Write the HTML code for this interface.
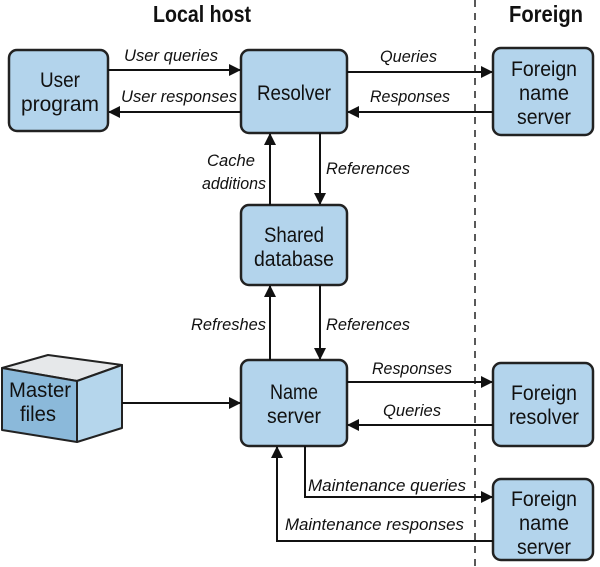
<!DOCTYPE html>
<html><head><style>
body{margin:0;background:#fff}
svg{display:block}
text{font-family:"Liberation Sans",sans-serif;fill:#111}
.b{font-size:21px;text-anchor:middle}
.l{font-size:17px;font-style:italic}
.h{font-size:23px;text-anchor:middle;font-weight:bold}
</style></head><body>
<svg width="600" height="567" viewBox="0 0 600 567">
<defs><marker id="a" markerWidth="12" markerHeight="12" refX="11" refY="6" orient="auto" markerUnits="userSpaceOnUse"><path d="M0,0 L12,6 L0,12z" fill="#111"/></marker></defs>
<text class="h" x="202" y="22" textLength="98" lengthAdjust="spacingAndGlyphs">Local host</text>
<text class="h" x="546" y="22" textLength="74" lengthAdjust="spacingAndGlyphs">Foreign</text>
<line x1="475" y1="0" x2="475" y2="567" stroke="#222" stroke-width="1.5" stroke-dasharray="7,6"/>
<g fill="#b3d4ec" stroke="#222" stroke-width="2.5">
<rect x="9" y="50" width="99" height="81" rx="8"/>
<rect x="241" y="50" width="106" height="83" rx="8"/>
<rect x="493" y="48" width="100" height="87" rx="8"/>
<rect x="241" y="205" width="106" height="80" rx="8"/>
<rect x="241" y="360" width="106" height="86" rx="8"/>
<rect x="493" y="363" width="100" height="83" rx="8"/>
<rect x="493" y="479" width="100" height="81" rx="8"/>
</g>
<g stroke="#222" stroke-width="2" stroke-linejoin="round">
<path d="M2,368 L48,355 L122,365 L77,381z" fill="#e6e8ea"/>
<path d="M2,368 L77,381 L77,442 L2,430z" fill="#8bb9da"/>
<path d="M77,381 L122,365 L122,428 L77,442z" fill="#b5d6ec"/>
</g>
<g stroke="#111" stroke-width="2" fill="none" marker-end="url(#a)">
<line x1="108" y1="70" x2="240" y2="70"/>
<line x1="241" y1="112" x2="109" y2="112"/>
<line x1="347" y1="72" x2="492" y2="72"/>
<line x1="493" y1="112" x2="348" y2="112"/>
<line x1="270" y1="205" x2="270" y2="134"/>
<line x1="320" y1="133" x2="320" y2="204"/>
<line x1="270" y1="360" x2="270" y2="286"/>
<line x1="320" y1="285" x2="320" y2="359"/>
<line x1="122" y1="403" x2="240" y2="403"/>
<line x1="347" y1="382" x2="492" y2="382"/>
<line x1="493" y1="425" x2="348" y2="425"/>
<path d="M305,446 L305,497 L492,497"/>
<path d="M493,541 L277,541 L277,447"/>
</g>
<g lengthAdjust="spacingAndGlyphs">
<text class="b" x="60" y="87" textLength="40" lengthAdjust="spacingAndGlyphs">User</text><text class="b" x="60" y="111" textLength="78" lengthAdjust="spacingAndGlyphs">program</text>
<text class="b" x="294" y="100" textLength="74" lengthAdjust="spacingAndGlyphs">Resolver</text>
<text class="b" x="544" y="76" textLength="66" lengthAdjust="spacingAndGlyphs">Foreign</text><text class="b" x="544" y="100" textLength="50" lengthAdjust="spacingAndGlyphs">name</text><text class="b" x="544" y="124" textLength="54" lengthAdjust="spacingAndGlyphs">server</text>
<text class="b" x="294" y="242" textLength="60" lengthAdjust="spacingAndGlyphs">Shared</text><text class="b" x="294" y="266" textLength="80" lengthAdjust="spacingAndGlyphs">database</text>
<text class="b" x="294" y="399" textLength="48" lengthAdjust="spacingAndGlyphs">Name</text><text class="b" x="294" y="423" textLength="54" lengthAdjust="spacingAndGlyphs">server</text>
<text class="b" x="544" y="400" textLength="66" lengthAdjust="spacingAndGlyphs">Foreign</text><text class="b" x="544" y="424" textLength="70" lengthAdjust="spacingAndGlyphs">resolver</text>
<text class="b" x="544" y="506" textLength="66" lengthAdjust="spacingAndGlyphs">Foreign</text><text class="b" x="544" y="530" textLength="50" lengthAdjust="spacingAndGlyphs">name</text><text class="b" x="544" y="554" textLength="54" lengthAdjust="spacingAndGlyphs">server</text>
<text class="b" x="40" y="397" textLength="62" lengthAdjust="spacingAndGlyphs">Master</text><text class="b" x="38" y="421" textLength="36" lengthAdjust="spacingAndGlyphs">files</text>
<text class="l" x="124" y="61" textLength="94" lengthAdjust="spacingAndGlyphs">User queries</text>
<text class="l" x="121" y="102" textLength="116" lengthAdjust="spacingAndGlyphs">User responses</text>
<text class="l" x="380" y="62" textLength="57" lengthAdjust="spacingAndGlyphs">Queries</text>
<text class="l" x="370" y="102" textLength="80" lengthAdjust="spacingAndGlyphs">Responses</text>
<text class="l" x="207" y="166" textLength="48" lengthAdjust="spacingAndGlyphs">Cache</text>
<text class="l" x="202" y="189" textLength="64" lengthAdjust="spacingAndGlyphs">additions</text>
<text class="l" x="326" y="174" textLength="84" lengthAdjust="spacingAndGlyphs">References</text>
<text class="l" x="191" y="330" textLength="75" lengthAdjust="spacingAndGlyphs">Refreshes</text>
<text class="l" x="326" y="330" textLength="84" lengthAdjust="spacingAndGlyphs">References</text>
<text class="l" x="372" y="374" textLength="80" lengthAdjust="spacingAndGlyphs">Responses</text>
<text class="l" x="383" y="416" textLength="58" lengthAdjust="spacingAndGlyphs">Queries</text>
<text class="l" x="308" y="491" textLength="158" lengthAdjust="spacingAndGlyphs">Maintenance queries</text>
<text class="l" x="285" y="530" textLength="179" lengthAdjust="spacingAndGlyphs">Maintenance responses</text>
</g>
</svg>
</body></html>
